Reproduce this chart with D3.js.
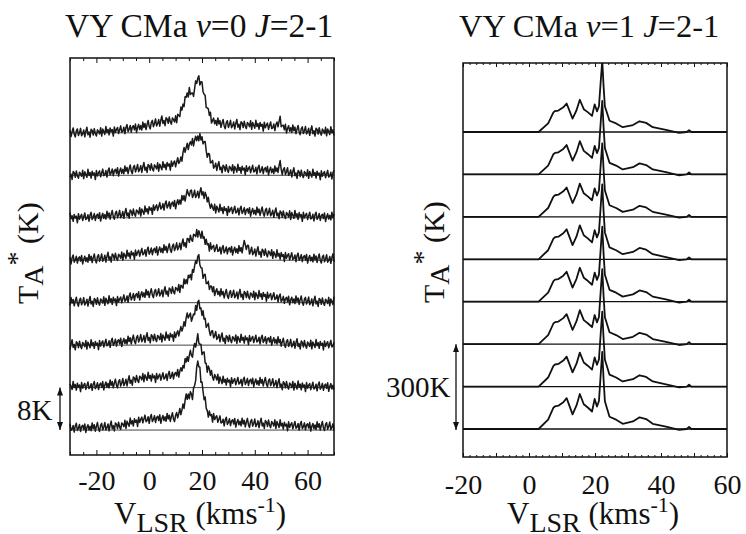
<!DOCTYPE html>
<html>
<head>
<meta charset="UTF-8">
<title>VY CMa v=0 / v=1 J=2-1</title>
<script src="https://cdn.jsdelivr.net/npm/d3@7"></script>
<style>
  body { margin: 0; background: #fff; }
  svg { display: block; }
  text { font-family: "Liberation Serif", "DejaVu Serif", "Times New Roman", serif; fill: #111; }
  .frame { fill: none; stroke: #111; stroke-width: 1.5; }
  .base0 { stroke: #444; stroke-width: 1; }
  .base1 { stroke: #111; stroke-width: 1.3; }
  .spec0 { fill: none; stroke: #1a1a1a; stroke-width: 1.5; stroke-linejoin: round; }
  .spec1 { fill: none; stroke: #111; stroke-width: 1.8; stroke-linejoin: round; }
  .tick line { stroke: #111; stroke-width: 1; }
</style>
</head>
<body>
<svg id="chart" width="746" height="534"></svg>
<script>
// ---- v=0 J=2-1 (left), TA* in K, rows listed top to bottom
const v0Vel = [-30, -20, -11, -2, 5, 10, 12, 14, 15, 16.5, 18.5, 20.5, 22, 24, 28, 35, 36.4, 38, 44, 48.5, 49.5, 50.5, 56, 62, 70];
const v0Rows = [
  [0.0, 0.1, 0.5, 1.2, 2.2, 2.4, 3.9, 6.8, 8.0, 6.9, 10.7, 8.1, 4.5, 2.3, 1.6, 1.5, 1.5, 1.5, 1.3, 1.2, 2.7, 1.0, 0.5, 0.3, 0.2],
  [0.1, 0.2, 0.8, 1.4, 1.6, 2.2, 3.0, 5.3, 5.6, 6.3, 7.2, 6.6, 4.2, 2.0, 1.3, 1.1, 1.1, 1.1, 1.0, 0.9, 2.0, 0.8, 0.3, 0.2, 0.1],
  [0.0, 0.2, 0.6, 1.2, 2.2, 2.6, 3.2, 4.0, 5.0, 4.3, 4.5, 4.8, 3.5, 1.8, 1.5, 1.3, 1.3, 1.2, 1.1, 0.8, 0.7, 0.6, 0.4, 0.2, 0.2],
  [0.1, 0.3, 0.7, 1.5, 2.0, 2.4, 2.8, 3.3, 3.8, 4.3, 5.2, 4.3, 3.0, 2.3, 1.9, 1.9, 3.2, 1.7, 1.4, 1.0, 0.9, 0.8, 0.5, 0.3, 0.2],
  [0.1, 0.2, 0.5, 1.6, 1.9, 2.4, 2.8, 4.0, 4.7, 5.6, 8.8, 5.2, 3.7, 2.4, 1.6, 1.5, 1.5, 1.4, 1.3, 1.0, 0.8, 0.6, 0.4, 0.2, 0.2],
  [0.0, 0.1, 0.6, 1.3, 1.4, 1.8, 2.7, 4.8, 5.8, 4.9, 8.3, 5.5, 3.5, 2.0, 1.2, 1.1, 1.1, 1.1, 1.0, 0.8, 0.6, 0.4, 0.2, 0.1, 0.1],
  [0.2, 0.3, 0.8, 1.9, 2.0, 2.4, 3.2, 5.0, 5.8, 6.6, 9.5, 6.2, 3.8, 2.2, 1.2, 1.1, 1.1, 1.1, 1.0, 0.8, 0.6, 0.5, 0.3, 0.2, 0.2],
  [0.4, 0.5, 0.8, 2.0, 2.2, 2.4, 3.5, 5.8, 6.9, 6.2, 13.2, 7.0, 3.3, 2.5, 1.6, 1.4, 1.3, 1.3, 1.2, 1.1, 1.0, 0.9, 0.8, 0.7, 0.7]
];
// channel-to-channel ripple (K), hand-typed to match the visible noise band
const v0Ripple = [
  0.5, -0.7, 0.2, 0.9, -0.3, -0.8, 0.35, 0.7, -0.55, 0.0,
  0.8, -0.6, -0.2, 0.5, -0.8, 0.25, 1.0, -0.45, 0.1, -0.9,
  0.6, 0.35, -0.5, 0.7, -0.25, -0.7, 0.45, 0.15, -0.35, 0.8,
  -0.8, 0.5, 0.0, -0.55, 0.95, -0.2, 0.35, -0.7, 0.6, -0.1,
  0.25, -1.0, 0.7, -0.35, 0.2, 0.55, -0.6, 0.1, 0.8, -0.45,
  -0.25, 0.45, -0.8, 0.35, 0.85, -0.5, -0.1, 0.6, -0.7, 0.2,
  0.45, -0.35, 0.7, -0.9, 0.0, 0.55, -0.45, 0.25, -0.6, 0.85, -0.2
];
const v0Step = 8;          // K between stacked rows
const v0Channel = 0.4;     // km/s
const v0Labels = [-20, 0, 20, 40, 60];

// ---- v=1 J=2-1 (right), one maser profile repeated in every row
const v1Vel = [-20, 2.9, 5.8, 7.4, 7.9, 8.9, 10.4, 11.4, 13.2, 14.4, 15.4, 16.6, 17.9, 19.1, 19.9, 20.6, 21.2, 21.8, 22.2, 22.6, 23.0, 23.4, 24.4, 26.4, 28.4, 31.5, 33.5, 35.5, 37.5, 41.5, 45.5, 47.8, 48.5, 49.2, 60];
const v1Temp = [0, 0, 32, 73, 78, 80, 92, 106, 50, 81, 120, 85, 73, 60, 103, 77, 96, 200, 265, 170, 95, 80, 42, 32, 18, 26, 40, 34, 18, 8, -3, 0, 7, 0, 0];
const v1Gain = [0.95, 0.98, 0.98, 1.0, 1.0, 1.0, 1.0, 1.03];
const v1Step = 150;        // K between stacked rows
const v1Labels = [-20, 0, 20, 40, 60];
const v1Major = [-20, -10, 0, 10, 20, 30, 40, 50, 60];

const svg = d3.select("#chart");

const xL = d3.scaleLinear().domain([-30, 70]).range([70, 334]);
const yL = d3.scaleLinear().domain([-4.7, 70.1]).range([455, 58]);
const xR = d3.scaleLinear().domain([-20, 60]).range([463, 727]);
const yR = d3.scaleLinear().domain([-99, 1294]).range([457, 63]);

const defs = svg.append("defs");
defs.append("marker")
    .attr("id", "head")
    .attr("viewBox", "0 0 10 10")
    .attr("refX", 10).attr("refY", 5)
    .attr("markerWidth", 8).attr("markerHeight", 6)
    .attr("markerUnits", "userSpaceOnUse")
    .attr("preserveAspectRatio", "none")
    .attr("orient", "auto-start-reverse")
    .append("path").attr("d", "M0,0L10,5L0,10z").attr("fill", "#111");

defs.append("clipPath").attr("id", "clipR")
    .append("rect")
    .attr("x", xR.range()[0]).attr("y", yR.range()[1])
    .attr("width", xR.range()[1] - xR.range()[0])
    .attr("height", yR.range()[0] - yR.range()[1]);

function profileAt(vel, vals, v) {
    let i = d3.bisectRight(vel, v) - 1;
    i = Math.max(0, Math.min(vel.length - 2, i));
    const t = (v - vel[i]) / (vel[i + 1] - vel[i]);
    return vals[i] + t * (vals[i + 1] - vals[i]);
}

function drawTicks(x, y, major, minor, majLen, minLen) {
    const bottom = y.range()[0], top = y.range()[1];
    const g = svg.append("g");
    [[major, majLen], [minor, minLen]].forEach(([vals, len]) => {
        g.append("g").attr("transform", `translate(0,${bottom})`)
            .call(d3.axisBottom(x).tickValues(vals).tickSize(-len).tickFormat(""))
            .call(a => a.select(".domain").remove());
        g.append("g").attr("transform", `translate(0,${top})`)
            .call(d3.axisTop(x).tickValues(vals).tickSize(-len).tickFormat(""))
            .call(a => a.select(".domain").remove());
    });
}

function drawLabels(x, y, labels, pad) {
    svg.append("g").attr("transform", `translate(0,${y.range()[0]})`)
        .call(d3.axisBottom(x).tickValues(labels).tickSize(0).tickPadding(pad).tickFormat(d => String(d)))
        .call(a => a.select(".domain").remove())
        .attr("font-family", null).attr("font-size", null)
        .call(a => a.selectAll("text").attr("font-size", 28));
}

function drawFrame(x, y) {
    svg.append("rect").attr("class", "frame")
        .attr("x", x.range()[0]).attr("y", y.range()[1])
        .attr("width", x.range()[1] - x.range()[0])
        .attr("height", y.range()[0] - y.range()[1]);
}

// ---------- left panel
const nRows = v0Rows.length;
const channels = d3.range(v0Vel[0], v0Vel[v0Vel.length - 1] + 0.001, v0Channel);

svg.append("g").selectAll("line")
    .data(d3.range(nRows))
    .join("line")
    .attr("class", "base0")
    .attr("x1", xL.range()[0]).attr("x2", xL.range()[1])
    .attr("y1", k => yL((nRows - 1 - k) * v0Step))
    .attr("y2", k => yL((nRows - 1 - k) * v0Step));

const lineL = d3.line().x(d => xL(d[0])).y(d => yL(d[1]));
svg.append("g").selectAll("path")
    .data(v0Rows)
    .join("path")
    .attr("class", "spec0")
    .attr("d", (row, k) => lineL(channels.map((v, i) => [
        v,
        (nRows - 1 - k) * v0Step + profileAt(v0Vel, row, v) + v0Ripple[(i + 17 * k) % v0Ripple.length]
    ])));

drawTicks(xL, yL, v0Labels, d3.range(-30, 71, 5).filter(v => v % 20 !== 0), 5, 3);
drawFrame(xL, yL);
drawLabels(xL, yL, v0Labels, 15);

// ---------- right panel
svg.append("g").selectAll("line")
    .data(d3.range(v1Gain.length))
    .join("line")
    .attr("class", "base1")
    .attr("x1", xR.range()[0]).attr("x2", xR.range()[1])
    .attr("y1", k => yR((v1Gain.length - 1 - k) * v1Step))
    .attr("y2", k => yR((v1Gain.length - 1 - k) * v1Step));

const lineR = d3.line().x(d => xR(d[0])).y(d => yR(d[1]));
svg.append("g").attr("clip-path", "url(#clipR)").selectAll("path")
    .data(v1Gain)
    .join("path")
    .attr("class", "spec1")
    .attr("d", (gain, k) => lineR(v1Vel.map((v, i) => [
        v, (v1Gain.length - 1 - k) * v1Step + v1Temp[i] * gain
    ])));

drawTicks(xR, yR, v1Major, d3.range(-20, 61, 2).filter(v => v % 10 !== 0), 4, 2);
drawFrame(xR, yR);
drawLabels(xR, yR, v1Labels, 17);

// ---------- titles
function title(x, fs, vib) {
    const t = svg.append("text").attr("x", x).attr("y", 37).attr("font-size", fs);
    t.append("tspan").text("VY CMa ");
    t.append("tspan").attr("font-style", "italic").text("v");
    t.append("tspan").text("=" + vib + " ");
    t.append("tspan").attr("font-style", "italic").text("J");
    t.append("tspan").text("=2-1");
}
title(65, 33.5, 0);
title(459, 32.5, 1);

function xTitle(x) {
    const t = svg.append("text").attr("x", x).attr("y", 524).attr("font-size", 31);
    t.append("tspan").text("V");
    t.append("tspan").attr("dy", 8).attr("font-size", 28).text("LSR");
    t.append("tspan").attr("dy", -8).text(" (kms");
    t.append("tspan").attr("dy", -12).attr("font-size", 22).text("-1");
    t.append("tspan").attr("dy", 12).text(")");
}
xTitle(114);
xTitle(507);

function yTitle(x, y) {
    const t = svg.append("text").attr("transform", `translate(${x},${y}) rotate(-90)`).attr("font-size", 30);
    t.append("tspan").text("T");
    t.append("tspan").attr("dy", 5).attr("font-size", 28).text("A");
    t.append("tspan").attr("dy", -17).attr("font-size", 28).text("*");
    t.append("tspan").attr("dy", 12).text(" (K)");
}
yTitle(38, 304);
yTitle(444, 303);

// ---------- scale bars
function scaleBar(x, y0, y1, label, lx, ly) {
    svg.append("line")
        .attr("x1", x).attr("x2", x).attr("y1", y0).attr("y2", y1)
        .attr("stroke", "#111").attr("stroke-width", 1.3)
        .attr("marker-start", "url(#head)").attr("marker-end", "url(#head)");
    svg.append("text").attr("x", lx).attr("y", ly).attr("font-size", 29).text(label);
}
scaleBar(60, yL(0), yL(v0Step), "8K", 17, 420);
scaleBar(456, yR(0) + 1, yR(2 * v1Step), "300K", 386, 397);
</script>
</body>
</html>
